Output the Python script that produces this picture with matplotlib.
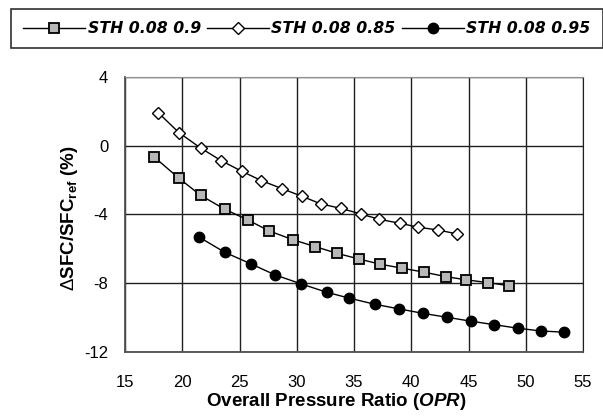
import matplotlib
matplotlib.use("Agg")
import matplotlib.pyplot as plt

plt.rcParams["font.family"] = ["Liberation Sans", "DejaVu Sans"]
plt.rcParams["mathtext.fontset"] = "custom"
plt.rcParams["mathtext.rm"] = "Liberation Sans:bold"
plt.rcParams["mathtext.bf"] = "Liberation Sans:bold"
plt.rcParams["mathtext.it"] = "Liberation Sans:bold:italic"
plt.rcParams["mathtext.sf"] = "Liberation Sans"

# Series: STH 0.08 with different efficiencies
opr_090 = [17.5, 19.7, 21.6, 23.7, 25.7, 27.6, 29.7, 31.6, 33.5, 35.4, 37.3,
           39.2, 41.1, 43.0, 44.8, 46.7, 48.5]
dsfc_090 = [-0.62, -1.88, -2.88, -3.69, -4.31, -4.96, -5.48, -5.87, -6.26,
            -6.59, -6.90, -7.13, -7.36, -7.62, -7.81, -7.97, -8.15]

opr_085 = [17.9, 19.7, 21.6, 23.4, 25.2, 26.9, 28.7, 30.5, 32.1, 33.9, 35.6,
           37.2, 39.0, 40.6, 42.3, 44.0]
dsfc_085 = [1.94, 0.78, -0.12, -0.86, -1.48, -2.02, -2.49, -2.95, -3.38,
            -3.65, -3.97, -4.28, -4.51, -4.74, -4.90, -5.13]

opr_095 = [21.5, 23.7, 26.0, 28.1, 30.4, 32.6, 34.6, 36.8, 38.9, 41.0, 43.1,
           45.2, 47.2, 49.3, 51.3, 53.3]
dsfc_095 = [-5.33, -6.20, -6.88, -7.52, -8.05, -8.53, -8.88, -9.23, -9.50,
            -9.76, -9.99, -10.22, -10.42, -10.63, -10.79, -10.86]

labels = ["STH 0.08 0.9", "STH 0.08 0.85", "STH 0.08 0.95"]
x_ticks = [15, 20, 25, 30, 35, 40, 45, 50, 55]
y_ticks = [-12, -8, -4, 0, 4]

W, H = 603, 420
fig = plt.figure(figsize=(W / 100, H / 100), dpi=100)
ax = fig.add_axes([125 / W, 1 - 351.7 / H, (583 - 125) / W, (351.7 - 77.3) / H])

h1, = ax.plot(opr_090, dsfc_090, color="black", lw=1.0, marker="s", ms=7.2,
              mfc="#b8b8b8", mec="black", mew=1.3, label=labels[0], zorder=3)
h2, = ax.plot(opr_085, dsfc_085, color="black", lw=1.0, marker="D", ms=6.0,
              mfc="white", mec="black", mew=1.0, label=labels[1], zorder=3)
h3, = ax.plot(opr_095, dsfc_095, color="black", lw=1.0, marker="o", ms=7.5,
              mfc="black", mec="black", label=labels[2], zorder=3)

ax.set_xlim(15, 55)
ax.set_ylim(-12, 4)
ax.set_xticks(x_ticks)
ax.set_yticks(y_ticks)
ax.set_yticklabels([str(v) for v in y_ticks])
ax.tick_params(length=0, labelsize=12)
ax.tick_params(axis="x", pad=17)
ax.tick_params(axis="y", pad=12)
ax.grid(True, color="#202020", lw=1.0)
ax.set_axisbelow(True)
for side in ["left", "bottom"]:
    ax.spines[side].set_color("#505050")
    ax.spines[side].set_linewidth(1.3)
ax.spines["top"].set_color("#909090")
ax.spines["right"].set_color("#202020")

fig.text(336 / W, 1 - 402 / H, r"Overall Pressure Ratio ($\mathit{OPR}$)",
         ha="center", va="center", fontsize=13.5, fontweight="bold")
fig.text(70 / W, 1 - 218 / H,
         r"$\mathsf{\Delta}$SFC/SFC$_{\mathrm{ref}}$ (%)",
         ha="center", va="center", rotation=90, fontsize=13.5, fontweight="bold")

leg = fig.legend(handles=[h1, h2, h3], labels=labels, loc="upper left",
                 bbox_to_anchor=(11 / W, 1 - 9 / H),
                 ncol=3, handlelength=3.95, handletextpad=0.15,
                 columnspacing=0.4, borderpad=0.78, borderaxespad=0,
                 fancybox=False, framealpha=1,
                 prop={"family": "DejaVu Sans", "weight": "bold",
                       "style": "oblique", "size": 11.3})
leg.get_frame().set_edgecolor("#303030")
leg.get_frame().set_linewidth(1.2)

fig.savefig("out.png", dpi=100)
